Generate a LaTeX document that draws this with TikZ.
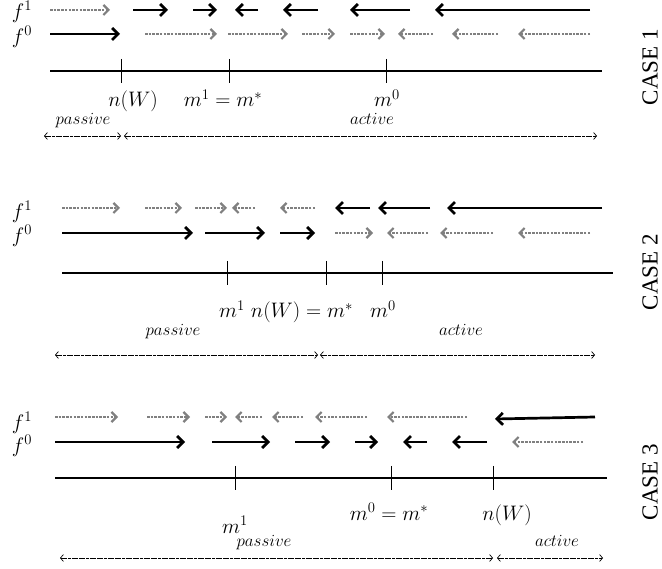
\documentclass[tikz,border=0pt]{standalone}
\usepackage{fix-cm}
\usepackage{fontspec}
\usetikzlibrary{arrows.meta}
\newfontfamily\casefont{Liberation Serif}

\begin{document}
\begin{tikzpicture}[x=1pt,y=-1pt,
bk/.style={line width=2.7pt,-{Straight Barb[length=6pt,width=12pt]}},
gr/.style={gray,line width=1.1pt,dash pattern=on 2.5pt off 1.2pt,
-{Straight Barb[length=5pt,width=10pt,line width=2.2pt]}},
axis/.style={line width=2.4pt},tick/.style={line width=0.7pt},
span/.style={line width=0.7pt,dash pattern=on 3pt off 0.6pt,
{Straight Barb[length=3pt,width=7pt]}-{Straight Barb[length=3pt,width=7pt]}},
lbl/.style={anchor=base,font=\fontsize{21}{24}\selectfont},
tag/.style={anchor=base,font=\fontsize{17}{20}\selectfont},
fn/.style={font=\fontsize{21}{24}\selectfont},
case/.style={rotate=90,font=\casefont\fontsize{23}{25}\selectfont}]
\useasboundingbox (0,0) rectangle (662,569);
% case 1
\node[fn] (f1a) at (22,12) {$f^1$};\node[fn] (f0a) at (22,37) {$f^0$};
\draw[gr] (50,10)--(110,10);
\draw[bk] (133,10)--(168,10);\draw[bk] (193,10)--(217,10);\draw[bk] (258,10)--(235,10);
\draw[bk] (318,10)--(283,10);\draw[bk] (410,10)--(350,10);\draw[bk] (590,10)--(435,10);
\draw[bk] (50,34)--(120,34);
\draw[gr] (145,34)--(217,34);\draw[gr] (228,34)--(288,34);\draw[gr] (302,34)--(335,34);
\draw[gr] (350,34)--(385,34);\draw[gr] (433,34)--(398,34);\draw[gr] (498,34)--(452,34);
\draw[gr] (590,34)--(518,34);
\draw[axis] (50,71)--(602,71);
\draw[tick] (121,59)--(121,83);\draw[tick] (229,59)--(229,83);\draw[tick] (386,59)--(386,83);
\node[lbl] (nw1) at (133,107) {$n(W)$};
\node[lbl] (ms1) at (223,107) {$m^1=m^*$};
\node[lbl] (m01) at (387,107) {$m^0$};
\node[tag] (pas1) at (83,125) {$passive$};\node[tag] (act1) at (372,125) {$active$};
\draw[span] (44,136)--(121,136);\draw[span] (124,136)--(597,136);
\node[case] (c1) at (650,67) {CASE 1};
% case 2
\node[fn] (f1b) at (22,212) {$f^1$};\node[fn] (f0b) at (22,236) {$f^0$};
\draw[gr] (62,208)--(120,208);\draw[gr] (145,208)--(182,208);\draw[gr] (195,208)--(227,208);
\draw[gr] (255,208)--(232,208);\draw[gr] (315,208)--(280,208);
\draw[bk] (370,208)--(335,208);\draw[bk] (430,208)--(378,208);\draw[bk] (602,208)--(447,208);
\draw[bk] (62,233)--(193,233);\draw[bk] (205,233)--(265,233);\draw[bk] (280,233)--(315,233);
\draw[gr] (335,233)--(373,233);\draw[gr] (428,233)--(387,233);\draw[gr] (493,233)--(440,233);
\draw[gr] (590,233)--(518,233);
\draw[axis] (62,273)--(613,273);
\draw[tick] (227,261)--(227,285);\draw[tick] (326,261)--(326,285);\draw[tick] (382,261)--(382,285);
\node[lbl] (m12) at (232,318) {$m^1$};
\node[lbl] (nw2) at (302,318) {$n(W)=m^*$};
\node[lbl] (m02) at (383,318) {$m^0$};
\node[tag] (pas2) at (173,336) {$passive$};\node[tag] (act2) at (461,336) {$active$};
\draw[span] (55,355)--(318,355);\draw[span] (320,355)--(595,355);
\node[case] (c2) at (650,272) {CASE 2};
% case 3
\node[fn] (f1c) at (22,423) {$f^1$};\node[fn] (f0c) at (22,446) {$f^0$};
\draw[gr] (55,417)--(118,417);\draw[gr] (147,417)--(190,417);\draw[gr] (205,417)--(227,417);
\draw[gr] (262,417)--(235,417);\draw[gr] (303,417)--(272,417);\draw[gr] (367,417)--(315,417);
\draw[gr] (467,417)--(387,417);\draw[bk] (595,417)--(495,419);
\draw[bk] (55,442)--(185,442);\draw[bk] (212,442)--(270,442);\draw[bk] (295,442)--(330,442);
\draw[bk] (355,442)--(378,442);\draw[bk] (427,442)--(403,442);\draw[bk] (487,442)--(452,442);
\draw[gr] (583,442)--(512,442);
\draw[axis] (55,478)--(607,478);
\draw[tick] (235,466)--(235,490);\draw[tick] (391,466)--(391,490);\draw[tick] (493,466)--(493,490);
\node[lbl] (m13) at (235,533) {$m^1$};
\node[lbl] (m03) at (389,520) {$m^0=m^*$};
\node[lbl] (nw3) at (507,520) {$n(W)$};
\node[tag] (pas3) at (264,547) {$passive$};\node[tag] (act3) at (557,547) {$active$};
\draw[span] (60,558)--(493,558);\draw[span] (497,558)--(603,558);
\node[case] (c3) at (650,482) {CASE 3};
\end{tikzpicture}
\end{document}
